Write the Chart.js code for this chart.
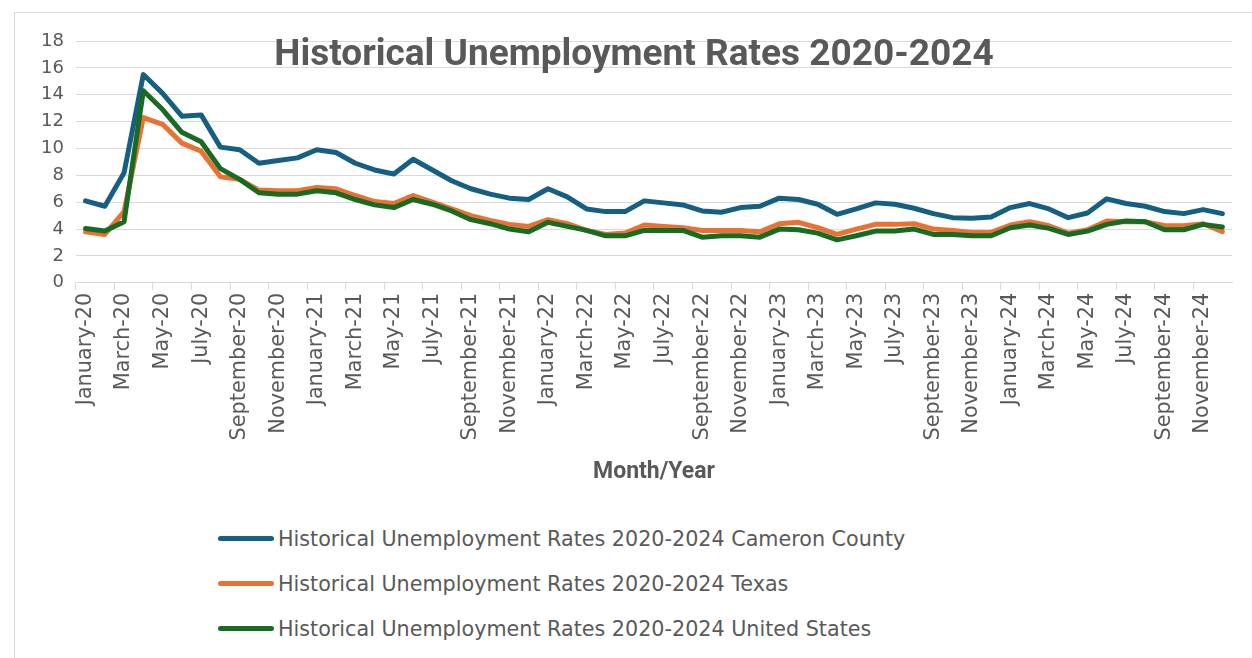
<!DOCTYPE html>
<html>
<head>
<meta charset="utf-8">
<script src="https://cdn.jsdelivr.net/npm/chart.js@4.4.1/dist/chart.umd.min.js"></script>
<style>
    body { margin: 0; background: #fff; }
    #wrap { position: relative; width: 1252px; height: 658px; overflow: hidden; background: #fff; }
    #frame { position: absolute; left: 14px; top: 12px; width: 1252px; height: 660px; border: 1px solid #d9d9d9; }
    #chart { position: absolute; left: 0; top: 0; }
    #title {
        position: absolute; left: 0; top: 31px; width: 1268px; text-align: center;
        font: bold 37px Roboto, sans-serif; color: #595959;
    }
    #legend { position: absolute; left: 218px; top: 516px; }
    .item { display: flex; align-items: center; height: 45px; font: 20.7px "DejaVu Sans", sans-serif; color: #595959; }
    .swatch { width: 56px; height: 5px; border-radius: 3px; margin-right: 4px; }
</style>
</head>
<body>
<div id="wrap">
    <div id="frame"></div>
    <canvas id="chart" width="1252" height="490"></canvas>
    <div id="title">Historical Unemployment Rates 2020-2024</div>
    <div id="legend"></div>
</div>
<script>
const monthNames = ['January', 'February', 'March', 'April', 'May', 'June',
    'July', 'August', 'September', 'October', 'November', 'December'];
const years = ['20', '21', '22', '23', '24'];

const cameron = [
    6.1, 5.7, 8.2, 15.5, 14.1, 12.4, 12.5, 10.1, 9.9, 8.9, 9.1, 9.3,
    9.9, 9.7, 8.9, 8.4, 8.1, 9.2, 8.4, 7.6, 7.0, 6.6, 6.3, 6.2,
    7.0, 6.4, 5.5, 5.3, 5.3, 6.1, 5.95, 5.8, 5.35, 5.25, 5.6, 5.7,
    6.3, 6.2, 5.85, 5.1, 5.5, 5.95, 5.85, 5.55, 5.15, 4.85, 4.8, 4.9,
    5.6, 5.9, 5.5, 4.85, 5.2, 6.25, 5.9, 5.7, 5.3, 5.15, 5.45, 5.15
];
const texas = [
    3.8, 3.6, 5.3, 12.3, 11.8, 10.4, 9.8, 7.9, 7.7, 6.9, 6.85, 6.85,
    7.1, 7.0, 6.5, 6.05, 5.9, 6.5, 6.0, 5.5, 5.0, 4.65, 4.35, 4.2,
    4.7, 4.4, 3.9, 3.6, 3.7, 4.3, 4.2, 4.1, 3.9, 3.9, 3.9, 3.8,
    4.4, 4.5, 4.1, 3.6, 4.0, 4.35, 4.35, 4.4, 4.0, 3.9, 3.75, 3.75,
    4.3, 4.55, 4.25, 3.7, 3.95, 4.6, 4.55, 4.55, 4.25, 4.25, 4.4, 3.8
];
const unitedStates = [
    4.05, 3.85, 4.55, 14.3, 12.9, 11.2, 10.5, 8.5, 7.7, 6.7, 6.6, 6.6,
    6.85, 6.7, 6.2, 5.8, 5.6, 6.2, 5.85, 5.35, 4.7, 4.4, 4.0, 3.8,
    4.5, 4.2, 3.9, 3.5, 3.5, 3.9, 3.9, 3.9, 3.4, 3.5, 3.5, 3.4,
    4.0, 3.95, 3.7, 3.2, 3.5, 3.85, 3.85, 4.0, 3.6, 3.6, 3.5, 3.5,
    4.1, 4.3, 4.05, 3.6, 3.85, 4.35, 4.6, 4.55, 3.95, 3.95, 4.35, 4.15
];

const labels = [];
years.forEach(y => monthNames.forEach(m => labels.push(m + '-' + y)));

const seriesNames = [
    'Historical Unemployment Rates 2020-2024 Cameron County',
    'Historical Unemployment Rates 2020-2024 Texas',
    'Historical Unemployment Rates 2020-2024 United States'
];
const colors = ['#156082', '#E97132', '#196B24'];
const series = [cameron, texas, unitedStates];

const grey = '#595959';
const gridGrey = '#d9d9d9';

new Chart(document.getElementById('chart'), {
    type: 'line',
    data: {
        labels: labels,
        datasets: series.map((values, i) => ({
            label: seriesNames[i],
            data: values,
            borderColor: colors[i],
            backgroundColor: colors[i],
            borderWidth: 5,
            pointRadius: 0,
            tension: 0,
            borderJoinStyle: 'round',
            borderCapStyle: 'round',
            order: 2 - i
        }))
    },
    options: {
        responsive: false,
        animation: false,
        layout: { padding: { top: 41, right: 20, left: 29, bottom: 0 } },
        plugins: {
            legend: { display: false },
            title: { display: false },
            tooltip: { enabled: false }
        },
        scales: {
            x: {
                offset: true,
                grid: {
                    offset: true,
                    drawOnChartArea: false,
                    tickLength: 7,
                    color: ctx => ctx.index % 2 === 0 ? gridGrey : 'rgba(0,0,0,0)'
                },
                border: { color: gridGrey, width: 1 },
                ticks: {
                    autoSkip: false,
                    maxRotation: 90,
                    minRotation: 90,
                    padding: 3,
                    color: grey,
                    font: { family: 'DejaVu Sans', size: 20.8 },
                    callback: (val, idx) => idx % 2 === 0 ? labels[idx] : ''
                },
                title: {
                    display: true,
                    text: 'Month/Year',
                    color: grey,
                    font: { family: 'Roboto', size: 23, weight: 'bold' },
                    padding: { top: 15, bottom: 4 }
                }
            },
            y: {
                min: 0,
                max: 18,
                grid: { color: gridGrey, lineWidth: 1, drawTicks: false },
                border: { display: false },
                ticks: {
                    stepSize: 2,
                    padding: 12,
                    color: grey,
                    font: { family: 'DejaVu Sans', size: 18 }
                }
            }
        }
    }
});

const legend = document.getElementById('legend');
seriesNames.forEach((name, i) => {
    const row = document.createElement('div');
    row.className = 'item';
    const sw = document.createElement('span');
    sw.className = 'swatch';
    sw.style.background = colors[i];
    const txt = document.createElement('span');
    txt.textContent = name;
    row.appendChild(sw);
    row.appendChild(txt);
    legend.appendChild(row);
});
</script>
</body>
</html>
